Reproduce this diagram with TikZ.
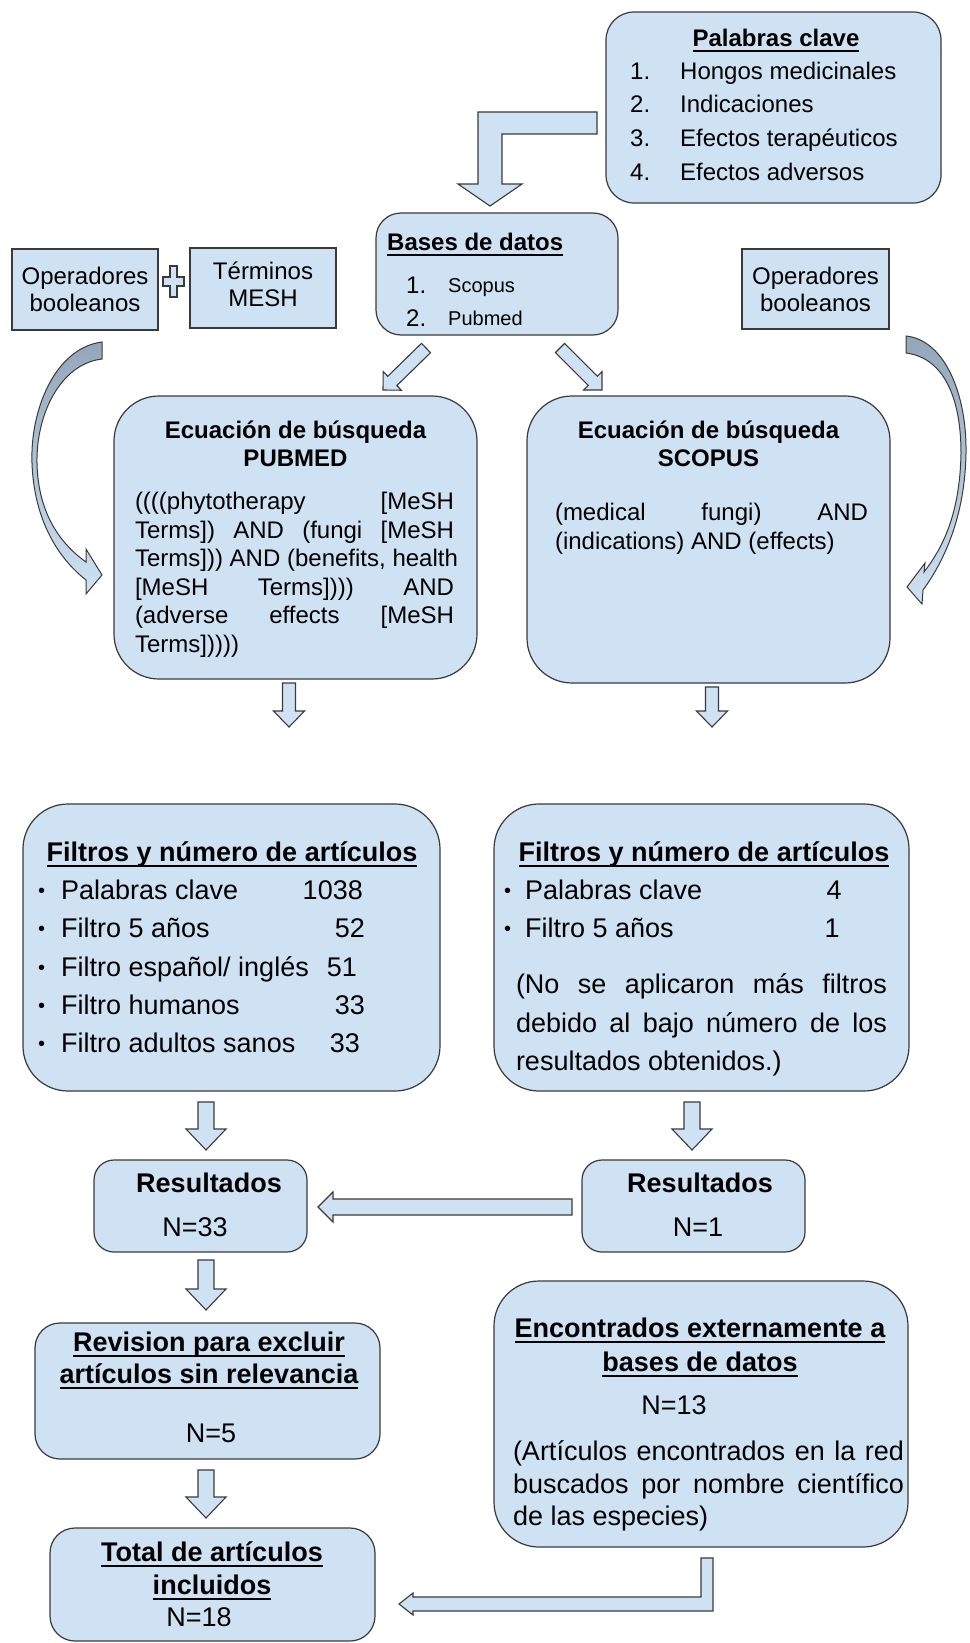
\documentclass[tikz,border=0pt]{standalone}
\usepackage{fontspec}
\setmainfont{Liberation Sans}
\usepackage{tikz}
\usetikzlibrary{calc}
\definecolor{boxfill}{HTML}{CFE2F3}
\definecolor{boxline}{HTML}{3A3A3A}
\definecolor{curvedark}{HTML}{93A6BA}
\providecommand{\ulined}[1]{\leavevmode\setbox0\hbox{#1}\rlap{\vrule width\wd0 height -3.5pt depth 5.5pt}\box0}
\providecommand{\jline}[2]{\hbox to #1{\spaceskip=0.28em plus 3em\relax #2}}
% block arrow: tail, tip, half shaft, half head, head length
\providecommand{\fatarrow}[5]{%
  \coordinate (fa-base) at ($(#2)!#5!(#1)$);
  \filldraw[arrowfill] ($(#1)!#3!90:(#2)$) -- ($(fa-base)!#3!90:(#2)$)
    -- ($(fa-base)!#4!90:(#2)$) -- (#2) -- ($(fa-base)!#4!-90:(#2)$)
    -- ($(fa-base)!#3!-90:(#2)$) -- ($(#1)!#3!-90:(#2)$) -- cycle;}

\begin{document}
\begin{tikzpicture}[scale=1.000000,x=1pt,y=-1pt,
  box/.style={draw=boxline,fill=boxfill,line width=1.2pt,rounded corners=#1,inner sep=0pt},
  box/.default=0pt,
  arrowfill/.style={draw=boxline,fill=boxfill,line width=1.1pt,line join=miter},
  curved/.style={draw=boxline,line width=1pt,top color=curvedark,bottom color=boxfill},
  t20/.style={inner sep=0pt,font=\fontsize{20}{24}\selectfont},
  t24/.style={inner sep=0pt,font=\fontsize{24}{27}\selectfont},
  b24/.style={inner sep=0pt,font=\fontsize{24}{28}\selectfont\bfseries},
  t27/.style={inner sep=0pt,font=\fontsize{27}{32}\selectfont},
  b27/.style={inner sep=0pt,font=\fontsize{27}{32.5}\selectfont\bfseries}]
\useasboundingbox (0,0) rectangle (969,1643);
\fill[white] (0,0) rectangle (969,1643);
% Drawing boxes
\node[box=28pt,minimum width=335,minimum height=191] (pal) at (773.5,107.5) {};
\node[box=25pt,minimum width=242,minimum height=122] (bases) at (497,274) {};
\node[box,minimum width=146,minimum height=81] (opL) at (85,289.5) {};
\node[box,minimum width=146,minimum height=80] (terms) at (263,288) {};
\node[box,minimum width=147,minimum height=80] (opR) at (815.5,289) {};
\node[box=45pt,minimum width=363,minimum height=283] (pubmed) at (295.5,537.5) {};
\node[box=45pt,minimum width=363,minimum height=287] (scopus) at (708.5,539.5) {};
\node[box=45pt,minimum width=417,minimum height=287] (filtL) at (231.5,947.5) {};
\node[box=45pt,minimum width=415,minimum height=287] (filtR) at (701.5,947.5) {};
\node[box=20pt,minimum width=213,minimum height=92] (resL) at (200.5,1206) {};
\node[box=20pt,minimum width=223,minimum height=92] (resR) at (693.5,1206) {};
\node[box=25pt,minimum width=345,minimum height=136] (rev) at (207.5,1391) {};
\node[box=45pt,minimum width=414,minimum height=266] (enc) at (701,1414) {};
\node[box=25pt,minimum width=325,minimum height=113] (total) at (212.5,1584.5) {};
% Done with boxes; drawing texts
% Box 1: Palabras clave
\node[b24,anchor=base] (palT) at (776,46.5) {\ulined{Palabras clave}};
\node[t24,anchor=base west] (pal1n) at (630,80) {1.};
\node[t24,anchor=base west] (pal1) at (680,80) {Hongos medicinales};
\node[t24,anchor=base west] (pal2n) at (630,113) {2.};
\node[t24,anchor=base west] (pal2) at (680,113) {Indicaciones};
\node[t24,anchor=base west] (pal3n) at (630,146.5) {3.};
\node[t24,anchor=base west] (pal3) at (680,146.5) {Efectos terapéuticos};
\node[t24,anchor=base west] (pal4n) at (630,180) {4.};
\node[t24,anchor=base west] (pal4) at (680,180) {Efectos adversos};
% Box 2: Bases de datos
\node[b24,anchor=base west] (basesT) at (387,250.5) {\ulined{Bases de datos}};
\node[t24,anchor=base west] (bases1n) at (406,293) {1.};
\node[t20,anchor=base west] (bases1) at (448,292) {Scopus};
\node[t24,anchor=base west] (bases2n) at (406,326) {2.};
\node[t20,anchor=base west] (bases2) at (448,325) {Pubmed};
% Line 3: operadores, terminos
\node[t24,align=center] (opLT) at (85,289) {Operadores\\booleanos};
\node[t24,align=center] (termsT) at (263,284) {Términos\\MESH};
\node[t24,align=center] (opRT) at (815.5,289) {Operadores\\booleanos};
% Line 4: ecuaciones de busqueda
\node[b24,align=center] (pubmedT) at (295.5,444) {Ecuación de búsqueda\\PUBMED};
\node[t24,align=left,font=\fontsize{24}{28.5}\selectfont] (pubmedQ) at (294.5,575) {\jline{319pt}{((((phytotherapy [MeSH}\\
  \jline{319pt}{Terms]) AND (fungi [MeSH}\\\jline{319pt}{Terms])) AND (benefits, health}\\
  \jline{319pt}{[MeSH Terms]))) AND}\\\jline{319pt}{(adverse effects [MeSH}\\\jline{319pt}{Terms]))))\hfill}};
\node[b24,align=center] (scopusT) at (708.5,444) {Ecuación de búsqueda\\SCOPUS};
\node[t24,align=left,font=\fontsize{24}{29}\selectfont] (scopusQ) at (711.5,529) {\jline{313pt}{(medical fungi) AND}\\\jline{313pt}{(indications) AND (effects)\hfill}};
% Line 5: filtros
\node[b27,anchor=base] (filtLT) at (232,861) {\ulined{Filtros y número de artículos}};
\node[t20,anchor=base west] (fl1b) at (38,897) {•};
\node[t27,anchor=base west] (fl1) at (61,899) {Palabras clave};
\node[t27,anchor=base east] (fl1n) at (363,899) {1038};
\node[t20,anchor=base west] (fl2b) at (38,935) {•};
\node[t27,anchor=base west] (fl2) at (61,937) {Filtro 5 años};
\node[t27,anchor=base east] (fl2n) at (365,937) {52};
\node[t20,anchor=base west] (fl3b) at (38,974) {•};
\node[t27,anchor=base west] (fl3) at (61,976) {Filtro español/ inglés};
\node[t27,anchor=base east] (fl3n) at (357,976) {51};
\node[t20,anchor=base west] (fl4b) at (38,1012) {•};
\node[t27,anchor=base west] (fl4) at (61,1014) {Filtro humanos};
\node[t27,anchor=base east] (fl4n) at (365,1014) {33};
\node[t20,anchor=base west] (fl5b) at (38,1050) {•};
\node[t27,anchor=base west] (fl5) at (61,1052) {Filtro adultos sanos};
\node[t27,anchor=base east] (fl5n) at (360,1052) {33};
\node[b27,anchor=base] (filtRT) at (704,861) {\ulined{Filtros y número de artículos}};
\node[t20,anchor=base west] (fr1b) at (504,897) {•};
\node[t27,anchor=base west] (fr1) at (525,899) {Palabras clave};
\node[t27,anchor=base] (fr1n) at (834,899) {4};
\node[t20,anchor=base west] (fr2b) at (504,935) {•};
\node[t27,anchor=base west] (fr2) at (525,937) {Filtro 5 años};
\node[t27,anchor=base] (fr2n) at (832,937) {1};
\node[t27,align=left,font=\fontsize{27}{38.5}\selectfont] (filtRP) at (701.5,1025) {\jline{371pt}{(No se aplicaron más filtros}\\
  \jline{371pt}{debido al bajo número de los}\\\jline{371pt}{resultados obtenidos.)\hfill}};
% Line 6: resultados
\node[b27,anchor=base] (resLT) at (209,1192.5) {Resultados};
\node[t27,anchor=base] (resLN) at (195,1236.5) {N=33};
\node[b27,anchor=base] (resRT) at (700,1192.5) {Resultados};
\node[t27,anchor=base] (resRN) at (698,1236.5) {N=1};
% Line 7: revision, encontrados, total
\node[b27,anchor=base] (revT1) at (209,1351.5) {\ulined{Revision para excluir}};
\node[b27,anchor=base] (revT2) at (209,1383.5) {\ulined{artículos sin relevancia}};
\node[t27,anchor=base] (revN) at (211,1442.5) {N=5};
\node[b27,anchor=base] (encT1) at (700,1337.5) {\ulined{Encontrados externamente a}};
\node[b27,anchor=base] (encT2) at (700,1371.5) {\ulined{bases de datos}};
\node[t27,anchor=base] (encN) at (674,1414.5) {N=13};
\node[t27,align=left,font=\fontsize{27}{32.5}\selectfont] (encP) at (708.5,1486) {\jline{391pt}{(Artículos encontrados en la red}\\
  \jline{391pt}{buscados por nombre científico}\\\jline{391pt}{de las especies)\hfill}};
\node[b27,anchor=base] (totalT1) at (212,1561.5) {\ulined{Total de artículos}};
\node[b27,anchor=base] (totalT2) at (212,1594.5) {\ulined{incluidos}};
\node[t27,anchor=base] (totalN) at (199,1626.5) {N=18};
% Done with texts; drawing arrows
% plus sign between opL and terms
\coordinate (plus) at (173.5,281.5);
\filldraw[arrowfill] ($(plus)+(-3.5,-15.5)$) -- ($(plus)+(3.5,-15.5)$) -- ($(plus)+(3.5,-4.5)$)
  -- ($(plus)+(10.5,-4.5)$) -- ($(plus)+(10.5,4.5)$) -- ($(plus)+(3.5,4.5)$) -- ($(plus)+(3.5,15.5)$)
  -- ($(plus)+(-3.5,15.5)$) -- ($(plus)+(-3.5,4.5)$) -- ($(plus)+(-10.5,4.5)$) -- ($(plus)+(-10.5,-4.5)$)
  -- ($(plus)+(-3.5,-4.5)$) -- cycle;
% elbow: pal -> bases
\coordinate (k0) at (597,123);
\coordinate (k1) at (490,206);
\filldraw[arrowfill] ($(k0)+(0,-11)$) -- ($(k1|-k0)+(-12,-11)$) -- ($(k1)+(-12,-22)$) -- ($(k1)+(-32,-22)$)
  -- (k1) -- ($(k1)+(32,-22)$) -- ($(k1)+(12,-22)$) -- ($(k1|-k0)+(12,11)$) -- ($(k0)+(0,11)$) -- cycle;
% bases -> pubmed, scopus
\coordinate (dl0) at (426,348); \coordinate (dl1) at (383,390);
\coordinate (dr0) at (560,348); \coordinate (dr1) at (602,390);
\fatarrow{dl0}{dl1}{6.5pt}{13pt}{13pt}
\fatarrow{dr0}{dr1}{6.5pt}{13pt}{13pt}
% curved: operadores -> ecuaciones
\path[curved] (102,342) .. controls (55,348) and (30,410) .. (32,463) .. controls (34,520) and (58,558) .. (86,580)
  -- (86,594) -- (102,575) -- (86,549) -- (86,562) .. controls (62,545) and (38,515) .. (37,463)
  .. controls (36,415) and (60,364) .. (102,359) -- cycle;
\path[curved] (906,336) .. controls (945,340) and (967,395) .. (966,453) .. controls (965,515) and (945,560) .. (923,590)
  -- (922,604) -- (907,587) -- (925,563) -- (924,572) .. controls (945,545) and (960,510) .. (961,453)
  .. controls (961,400) and (945,358) .. (906,353) -- cycle;
% ecuaciones -> filtros
\coordinate (pm0) at (289,683); \coordinate (pm1) at (289,727);
\coordinate (sc0) at (712,687); \coordinate (sc1) at (712,727);
\fatarrow{pm0}{pm1}{6.5pt}{15.5pt}{16pt}
\fatarrow{sc0}{sc1}{6.5pt}{15.5pt}{16pt}
% filtros -> resultados
\coordinate (fl0) at (206,1102); \coordinate (fl1) at (206,1150);
\coordinate (fr0) at (692,1102); \coordinate (fr1) at (692,1150);
\fatarrow{fl0}{fl1}{8pt}{20pt}{21pt}
\fatarrow{fr0}{fr1}{8pt}{20pt}{21pt}
% resR -> resL
\coordinate (rr0) at (572,1207); \coordinate (rr1) at (318,1207);
\fatarrow{rr0}{rr1}{8pt}{15pt}{15pt}
% resL -> rev -> total
\coordinate (rl0) at (206,1260); \coordinate (rl1) at (206,1310);
\coordinate (rv0) at (206,1470); \coordinate (rv1) at (206,1518);
\fatarrow{rl0}{rl1}{8pt}{20pt}{21pt}
\fatarrow{rv0}{rv1}{8pt}{20pt}{21pt}
% elbow: enc -> total
\coordinate (m0) at (707,1558);
\coordinate (m1) at (399,1604);
\filldraw[arrowfill] ($(m0)+(-6,0)$) -- ($(m0)+(6,0)$) -- ($(m0|-m1)+(6,7)$) -- ($(m1)+(14,7)$) -- ($(m1)+(14,11)$)
  -- (m1) -- ($(m1)+(14,-11)$) -- ($(m1)+(14,-7)$) -- ($(m0|-m1)+(-6,-7)$) -- cycle;
% Done with arrows
\end{tikzpicture}
\end{document}
